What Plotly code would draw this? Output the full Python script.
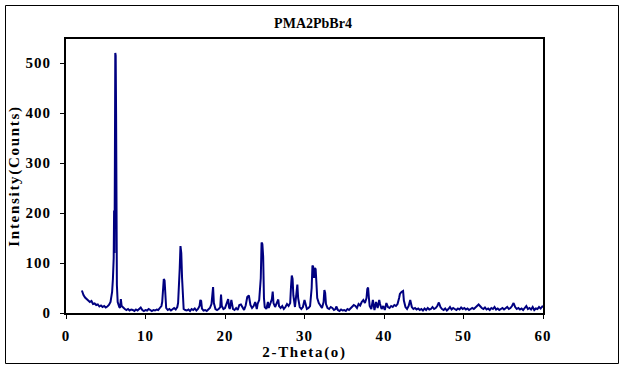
import plotly.graph_objects as go

# 2-Theta (degrees)
two_theta = [
    2.0, 2.1, 2.2, 2.4, 2.6, 2.8, 3.0, 3.2, 3.4, 3.6, 3.8, 4.0, 4.2, 4.4, 4.6, 4.8, 5.0, 5.2, 5.4, 5.6,
    5.7, 5.8, 5.9, 6.0, 6.05, 6.1, 6.15, 6.2, 6.25, 6.3, 6.35, 6.4, 6.5, 6.6, 6.7, 6.8, 6.9, 7.0, 7.2, 7.4,
    7.6, 7.8, 8.0, 8.2, 8.4, 8.6, 8.8, 9.0, 9.2, 9.4, 9.6, 9.8, 10.0, 10.2, 10.4, 10.6, 10.8, 11.0, 11.2, 11.4,
    11.6, 11.8, 12.0, 12.1, 12.2, 12.3, 12.4, 12.5, 12.6, 12.8, 13.0, 13.2, 13.4, 13.6, 13.8, 14.0, 14.1, 14.2, 14.3, 14.4,
    14.5, 14.6, 14.7, 14.8, 15.0, 15.2, 15.4, 15.6, 15.8, 16.0, 16.2, 16.4, 16.6, 16.8, 16.9, 17.0, 17.1, 17.3, 17.5, 17.7,
    17.9, 18.1, 18.3, 18.4, 18.5, 18.6, 18.8, 19.0, 19.2, 19.4, 19.5, 19.6, 19.8, 20.0, 20.2, 20.4, 20.5, 20.6, 20.8, 20.9,
    21.0, 21.2, 21.4, 21.6, 21.8, 22.0, 22.2, 22.4, 22.6, 22.8, 23.0, 23.2, 23.4, 23.6, 23.8, 24.0, 24.1, 24.3, 24.5, 24.6,
    24.7, 24.8, 24.9, 25.0, 25.2, 25.4, 25.5, 25.7, 25.9, 26.0, 26.1, 26.3, 26.5, 26.7, 26.8, 27.0, 27.2, 27.4, 27.6, 27.8,
    28.0, 28.2, 28.3, 28.4, 28.5, 28.6, 28.8, 29.0, 29.1, 29.2, 29.4, 29.6, 29.8, 30.0, 30.1, 30.3, 30.5, 30.7, 30.9, 31.0,
    31.1, 31.2, 31.3, 31.4, 31.5, 31.6, 31.8, 32.0, 32.2, 32.4, 32.5, 32.6, 32.7, 32.9, 33.1, 33.3, 33.5, 33.7, 33.9, 34.0,
    34.2, 34.4, 34.6, 34.8, 35.0, 35.2, 35.4, 35.6, 35.8, 36.0, 36.2, 36.4, 36.6, 36.8, 37.0, 37.2, 37.4, 37.6, 37.8, 37.9,
    38.0, 38.1, 38.2, 38.4, 38.6, 38.8, 39.0, 39.2, 39.4, 39.5, 39.7, 39.9, 40.1, 40.3, 40.5, 40.7, 40.9, 41.1, 41.3, 41.5,
    41.7, 41.9, 42.0, 42.2, 42.4, 42.5, 42.7, 42.9, 43.1, 43.3, 43.5, 43.7, 43.9, 44.1, 44.3, 44.5, 44.7, 44.9, 45.1, 45.3,
    45.5, 45.7, 45.9, 46.1, 46.3, 46.5, 46.7, 46.9, 47.1, 47.3, 47.5, 47.7, 47.9, 48.1, 48.3, 48.5, 48.7, 48.9, 49.1, 49.3,
    49.5, 49.7, 49.9, 50.1, 50.3, 50.5, 50.7, 50.9, 51.1, 51.3, 51.5, 51.7, 51.9, 52.1, 52.3, 52.5, 52.7, 52.9, 53.1, 53.3,
    53.5, 53.7, 53.9, 54.1, 54.3, 54.5, 54.7, 54.9, 55.1, 55.3, 55.5, 55.7, 55.9, 56.1, 56.3, 56.5, 56.7, 56.9, 57.1, 57.3,
    57.5, 57.9, 58.1, 58.3, 58.5, 58.7, 58.9, 59.1, 59.3, 59.5, 59.7, 59.9, 60.0,
]

# Intensity (counts)
counts = [
    45, 40, 36, 31, 28, 25, 22, 24, 18, 19, 16, 17, 13, 15, 12, 14, 11, 13, 16, 22,
    30, 42, 68, 110, 205, 120, 300, 520, 515, 400, 140, 56, 22, 14, 12, 10, 28, 14, 10, 8,
    6, 8, 5, 7, 6, 4, 7, 5, 8, 11, 6, 4, 6, 5, 8, 5, 4, 6, 5, 7,
    6, 10, 14, 22, 40, 68, 65, 28, 10, 6, 8, 5, 8, 10, 7, 12, 20, 45, 88, 134,
    120, 70, 20, 8, 6, 5, 7, 4, 8, 6, 9, 5, 8, 14, 26, 24, 9, 5, 6, 4,
    7, 10, 18, 44, 52, 20, 8, 6, 8, 12, 37, 14, 8, 10, 18, 28, 12, 8, 26, 15,
    8, 6, 10, 6, 16, 17, 12, 6, 15, 32, 35, 16, 10, 14, 22, 8, 18, 26, 70, 141,
    138, 113, 30, 12, 8, 22, 10, 18, 28, 43, 20, 12, 18, 27, 14, 10, 14, 8, 12, 18,
    14, 20, 52, 75, 68, 35, 12, 40, 57, 30, 12, 8, 12, 26, 18, 8, 10, 14, 50, 95,
    92, 70, 90, 88, 60, 30, 20, 14, 10, 22, 46, 40, 18, 10, 8, 12, 10, 6, 8, 13,
    6, 4, 7, 5, 6, 4, 8, 6, 10, 14, 16, 14, 10, 18, 15, 22, 26, 20, 30, 48,
    51, 30, 14, 8, 26, 6, 22, 10, 26, 18, 8, 14, 6, 20, 12, 10, 14, 12, 16, 14,
    18, 30, 38, 42, 44, 25, 12, 8, 14, 26, 12, 8, 10, 7, 9, 6, 8, 5, 9, 6,
    10, 7, 8, 12, 8, 10, 14, 21, 12, 8, 6, 9, 5, 8, 12, 7, 10, 8, 6, 9,
    7, 11, 8, 10, 7, 9, 6, 8, 10, 8, 12, 14, 17, 13, 10, 8, 11, 7, 9, 6,
    10, 8, 12, 7, 9, 6, 8, 10, 7, 9, 12, 8, 10, 14, 20, 12, 8, 10, 7, 9,
    6, 14, 8, 10, 7, 12, 6, 9, 8, 12, 9, 13, 11,
]

x_ticks = [0, 10, 20, 30, 40, 50, 60]
y_ticks = [0, 100, 200, 300, 400, 500]

FONT = dict(family="Liberation Serif, DejaVu Serif, serif", size=15, color="black", weight="bold")
TITLE_FONT = dict(family="Liberation Serif, DejaVu Serif, serif", size=14, color="black", weight="bold")


def spaced(t, px=1.0):
    return '<span style="letter-spacing:%spx">' % px + t + '</span>'


fig = go.Figure(
    go.Scatter(
        x=two_theta,
        y=counts,
        mode="lines",
        line=dict(color="#000080", width=2),
        showlegend=False,
    )
)

# plot area: x 66..543, y 39..313 in a 626x370 canvas
L, R, T, B = 66, 543, 39, 313
W, H = R - L, B - T


def px_to_paper_x(px):
    return (px - L) / W


def px_to_paper_y(py):
    return (B - py) / H


fig.add_shape(
    type="rect", xref="paper", yref="paper",
    x0=px_to_paper_x(5.5), x1=px_to_paper_x(618.5),
    y0=px_to_paper_y(363.5), y1=px_to_paper_y(5.5),
    line=dict(color="black", width=1), fillcolor="rgba(0,0,0,0)", layer="below",
)

fig.update_layout(
    width=626,
    height=370,
    margin=dict(l=L, r=626 - R, t=T, b=370 - B),
    paper_bgcolor="white",
    plot_bgcolor="white",
    font=FONT,
    title=dict(
        text="PMA2PbBr4", x=0.5, xref="container", xanchor="center",
        y=1 - 23 / 370, yref="container", yanchor="middle",
        font=TITLE_FONT,
    ),
    xaxis=dict(
        range=[0, 60], tickvals=x_ticks, ticktext=[spaced(str(v)) for v in x_ticks],
        showgrid=False, zeroline=False,
        showline=True, linecolor="black", linewidth=2, mirror=True,
        ticks="outside", ticklen=4, tickwidth=1, tickcolor="black",
        ticklabelstandoff=4,
        title=dict(text=spaced("2-Theta(o)", 1.7), font=FONT, standoff=3),
        tickfont=FONT,
    ),
    yaxis=dict(
        range=[0, 548], tickvals=y_ticks, ticktext=[spaced(str(v)) for v in y_ticks],
        showgrid=False, zeroline=False,
        showline=True, linecolor="black", linewidth=2, mirror=True,
        ticks="outside", ticklen=4, tickwidth=1, tickcolor="black",
        ticklabelstandoff=6,
        title=dict(text=spaced("Intensity(Counts)", 1.7), font=FONT, standoff=2),
        tickfont=FONT,
    ),
)

fig.write_html(
    "out.html",
    config={"displayModeBar": False},
    post_script="document.body.style.margin='0';document.body.style.padding='0';",
)
